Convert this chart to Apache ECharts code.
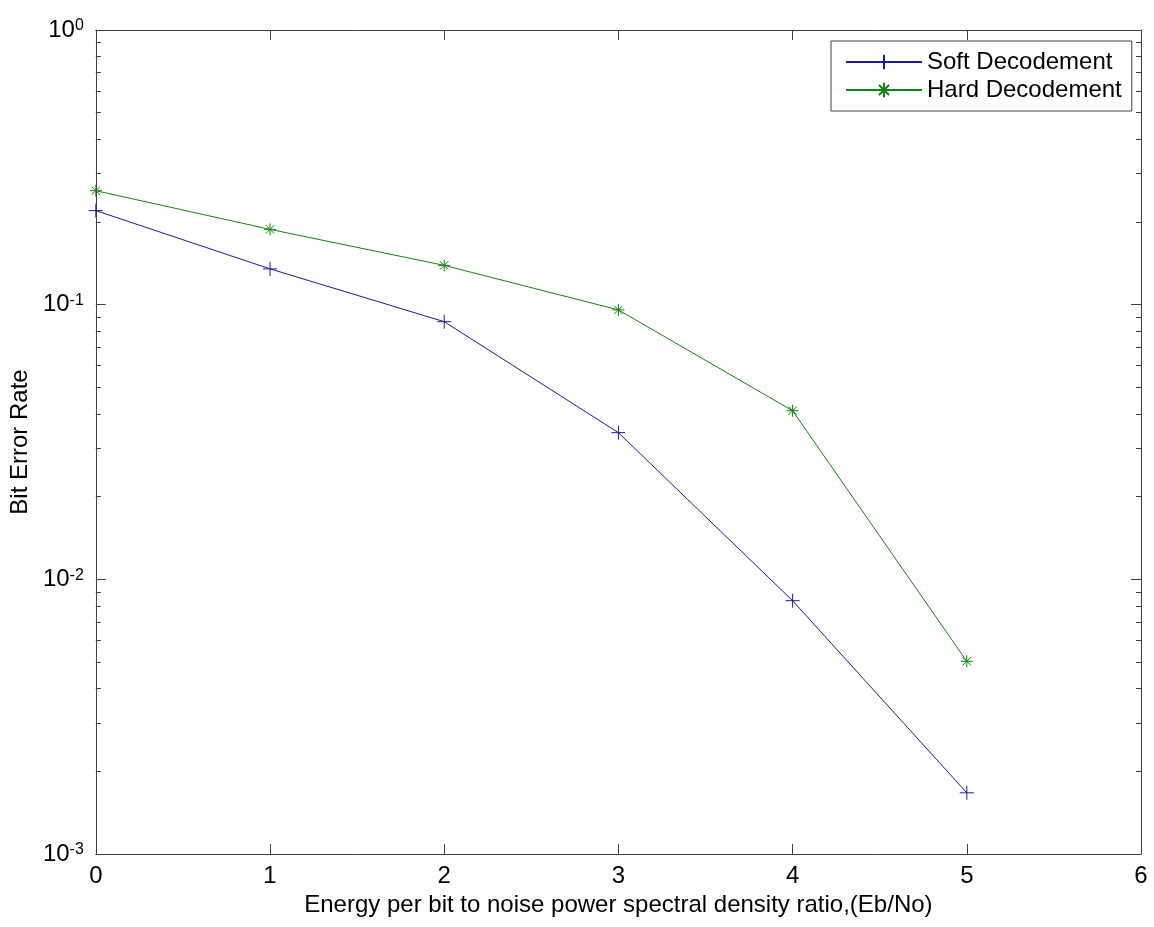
<!DOCTYPE html>
<html>
<head>
<meta charset="utf-8">
<title>Bit Error Rate</title>
<script src="https://cdn.jsdelivr.net/npm/echarts@6/dist/echarts.min.js"></script>
<style>
  html, body { margin: 0; padding: 0; background: #fff; }
  #chart { width: 1154px; height: 927px; }
</style>
</head>
<body>
<div id="chart"></div>
<script>
// Eb/No values
const ebno = [0, 1, 2, 3, 4, 5]
const softBer = [0.220, 0.135, 0.0867, 0.0342, 0.00836, 0.00167]
const hardBer = [0.260, 0.188, 0.139, 0.0957, 0.0411, 0.00503]
const xTicks = [0, 1, 2, 3, 4, 5, 6]

const font = '"Liberation Sans", Arial, sans-serif'
const axisColor = '#404040'
const blue = '#1a1aa8'
const green = '#128212'

const plusPath = 'path://M0,7H14M7,0V14'
const starPath = 'path://M0,6H12M6,0V12M1.8,1.8L10.2,10.2M10.2,1.8L1.8,10.2'

const chart = echarts.init(document.getElementById('chart'))

const xBase = {
  type: 'value',
  min: xTicks[0],
  max: xTicks[xTicks.length - 1],
  interval: 1,
  axisLine: { show: true, onZero: false, lineStyle: { color: axisColor, width: 1 } },
  axisTick: { show: true, inside: true, length: 10, lineStyle: { color: axisColor } },
  splitLine: { show: false },
}

// log axis: minor ticks split each decade into 9 equal data steps -> 2..9
const yBase = {
  type: 'log',
  logBase: 10,
  min: 0.001,
  max: 1,
  interval: 1,
  axisLine: { show: true, onZero: false, lineStyle: { color: axisColor, width: 1 } },
  axisTick: { show: true, inside: true, length: 10, lineStyle: { color: axisColor } },
  minorTick: { show: true, splitNumber: 9, length: 5, lineStyle: { color: axisColor } },
  splitLine: { show: false },
  minorSplitLine: { show: false },
}

const option = {
  animation: false,
  backgroundColor: '#fff',
  grid: { left: 95, right: 13, top: 30, bottom: 73, containLabel: false },
  legend: {
    orient: 'vertical',
    left: 831,
    top: 41,
    padding: [9, 10, 9, 14],
    itemWidth: 76,
    itemHeight: 18,
    itemGap: 4,
    backgroundColor: '#fff',
    borderColor: axisColor,
    borderWidth: 1,
    borderRadius: 0,
    textStyle: { fontFamily: font, fontSize: 24, color: '#000' },
    data: ['Soft Decodement', 'Hard Decodement'],
  },
  xAxis: [
    Object.assign({}, xBase, {
      position: 'bottom',
      name: 'Energy per bit to noise power spectral density ratio,(Eb/No)',
      nameLocation: 'middle',
      nameGap: 39,
      nameTextStyle: { fontFamily: font, fontSize: 24, color: '#000' },
      axisLabel: { fontFamily: font, fontSize: 24, color: '#000', margin: 10 },
    }),
    Object.assign({}, xBase, {
      position: 'top',
      axisLabel: { show: false },
    }),
  ],
  yAxis: [
    Object.assign({}, yBase, {
      position: 'left',
      name: 'Bit Error Rate',
      nameLocation: 'middle',
      nameGap: 50,
      nameTextStyle: { fontFamily: font, fontSize: 24, color: '#000' },
      axisLabel: {
        margin: 12,
        formatter: (v) => '{b|10}{s|' + Math.round(Math.log10(v)) + '}',
        rich: {
          b: { fontFamily: font, fontSize: 24, color: '#000', lineHeight: 24 },
          s: { fontFamily: font, fontSize: 16, color: '#000', lineHeight: 16, verticalAlign: 'top' },
        },
      },
    }),
    Object.assign({}, yBase, {
      position: 'right',
      axisLabel: { show: false },
    }),
  ],
  series: [
    {
      name: 'Soft Decodement',
      type: 'line',
      xAxisIndex: 0,
      yAxisIndex: 0,
      data: ebno.map((x, i) => [x, softBer[i]]),
      symbol: plusPath,
      symbolSize: 14,
      showSymbol: true,
      lineStyle: { color: blue, width: 1 },
      itemStyle: { color: 'rgba(0,0,0,0)', borderColor: blue, borderWidth: 1 },
      emphasis: { disabled: true },
      z: 3,
    },
    {
      name: 'Hard Decodement',
      type: 'line',
      xAxisIndex: 0,
      yAxisIndex: 0,
      data: ebno.map((x, i) => [x, hardBer[i]]),
      symbol: starPath,
      symbolSize: 12,
      showSymbol: true,
      lineStyle: { color: green, width: 1 },
      itemStyle: { color: 'rgba(0,0,0,0)', borderColor: green, borderWidth: 1 },
      emphasis: { disabled: true },
      z: 3,
    },
  ],
}

chart.setOption(option)
</script>
</body>
</html>
